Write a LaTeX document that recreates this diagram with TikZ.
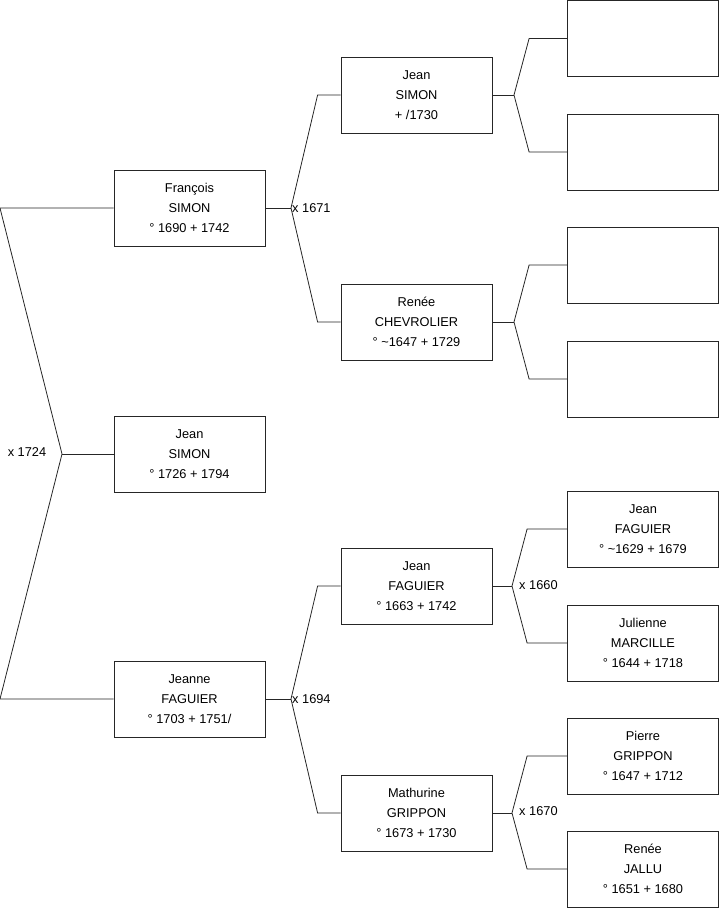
\documentclass[tikz,border=0pt]{standalone}
\usepackage{fontspec}
\setmainfont{Liberation Sans}
\usetikzlibrary{positioning}

\tikzset{
  person/.style={draw=black!85, line width=0.8pt, minimum width=151pt,
    minimum height=76pt, inner sep=0pt, align=center,
    font=\fontsize{12.8}{20}\selectfont},
  link/.style={draw=black!85, line width=0.8pt},
  wed/.style={font=\fontsize{12.8}{14}\selectfont, inner sep=1pt}
}

\begin{document}
\begin{tikzpicture}[x=1pt, y=-1pt]
    \useasboundingbox (0,0) rectangle (719,908);

    % Child
    \node[person] (root) at (189.5,454) {Jean\\SIMON\\° 1726 + 1794};

    % Parents
    \node[person] (fs) at (189.5,208) {François\\SIMON\\° 1690 + 1742};
    \node[person] (jf) at (189.5,699) {Jeanne\\FAGUIER\\° 1703 + 1751/};

    % Grandparents
    \node[person] (js) at (416.5,95) {Jean\\SIMON\\+ /1730};
    \node[person] (rc) at (416.5,322) {Renée\\CHEVROLIER\\° \textasciitilde1647 + 1729};
    \node[person] (fa) at (416.5,586) {Jean\\FAGUIER\\° 1663 + 1742};
    \node[person] (mg) at (416.5,813) {Mathurine\\GRIPPON\\° 1673 + 1730};

    % Great-grandparents
    \node[person] (e1) at (643,38.5) {};
    \node[person] (e2) at (643,152) {};
    \node[person] (e3) at (643,265) {};
    \node[person] (e4) at (643,379) {};
    \node[person] (jfa) at (643,529) {Jean\\FAGUIER\\° \textasciitilde1629 + 1679};
    \node[person] (jm) at (643,643) {Julienne\\MARCILLE\\° 1644 + 1718};
    \node[person] (pg) at (643,756) {Pierre\\GRIPPON\\° 1647 + 1712};
    \node[person] (rj) at (643,869) {Renée\\JALLU\\° 1651 + 1680};

    % Forks
    \coordinate (m0) at (62,454);
    \coordinate (a0) at (0,208);
    \coordinate (b0) at (0,699);
    \coordinate (m1) at (291,208);
    \coordinate (m2) at (291,699);
    \coordinate (m3) at (514,95);
    \coordinate (m4) at (514,322);
    \coordinate (m5) at (512,586);
    \coordinate (m6) at (512,813);

    \draw[link] (fs.west) -- (a0) -- (m0) -- (b0) -- (jf.west);
    \draw[link] (m0) -- (root.west);

    \draw[link] (fs.east) -- (m1);
    \draw[link] (js.west) -- ++(-23,0) -- (m1) -- ([xshift=-23pt]rc.west) -- (rc.west);
    \draw[link] (jf.east) -- (m2);
    \draw[link] (fa.west) -- ++(-23,0) -- (m2) -- ([xshift=-23pt]mg.west) -- (mg.west);

    \draw[link] (js.east) -- (m3);
    \draw[link] (e1.west) -- ++(-38,0) -- (m3) -- ([xshift=-38pt]e2.west) -- (e2.west);
    \draw[link] (rc.east) -- (m4);
    \draw[link] (e3.west) -- ++(-38,0) -- (m4) -- ([xshift=-38pt]e4.west) -- (e4.west);
    \draw[link] (fa.east) -- (m5);
    \draw[link] (jfa.west) -- ++(-40,0) -- (m5) -- ([xshift=-40pt]jm.west) -- (jm.west);
    \draw[link] (mg.east) -- (m6);
    \draw[link] (pg.west) -- ++(-40,0) -- (m6) -- ([xshift=-40pt]rj.west) -- (rj.west);

    % Marriages
    \node[wed] (w0) at (27,452) {x 1724};
    \node[wed, anchor=west] (w1) at (m1) {x 1671};
    \node[wed, anchor=west] (w2) at (m2) {x 1694};
    \node[wed, anchor=west] (w5) at (518,585) {x 1660};
    \node[wed, anchor=west] (w6) at (518,811) {x 1670};
\end{tikzpicture}
\end{document}
